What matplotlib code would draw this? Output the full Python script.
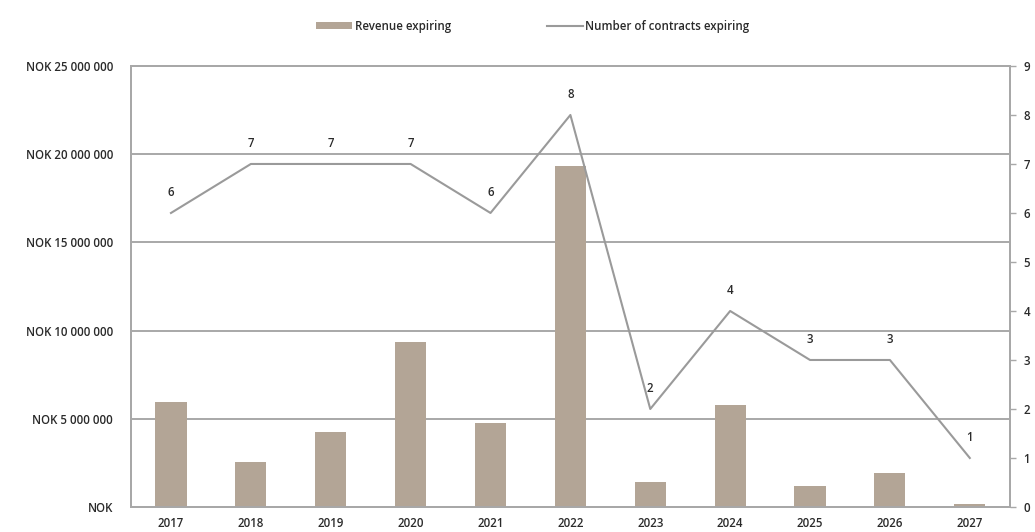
import matplotlib.pyplot as plt
import numpy as np
from matplotlib.ticker import FuncFormatter

plt.rcParams["font.family"] = ["Open Sans", "DejaVu Sans"]
plt.rcParams["font.weight"] = "semibold"

# ── data ────────────────────────────────────────────────
years = ["2017", "2018", "2019", "2020", "2021", "2022",
         "2023", "2024", "2025", "2026", "2027"]
revenue_expiring = [5_950_000, 2_550_000, 4_250_000, 9_380_000, 4_760_000,
                    19_350_000, 1_430_000, 5_760_000, 1_170_000, 1_950_000,
                    190_000]
contracts_expiring = [6, 7, 7, 7, 6, 8, 2, 4, 3, 3, 1]

BAR_COLOR = "#b3a596"
LINE_COLOR = "#9a9a9a"
GRID_COLOR = "#a8a8a8"
TEXT_COLOR = "#2a2a2a"
FS = 8.3


def nok(v, _pos):
    if v == 0:
        return "NOK"
    return "NOK " + f"{int(v):,}".replace(",", " ")


fig = plt.figure(figsize=(10.35, 5.32), dpi=100)
ax = fig.add_axes([0.1266, 0.047, 0.849, 0.829])
x = np.arange(len(years))

bars = ax.bar(x, revenue_expiring, width=0.39, color=BAR_COLOR,
              zorder=2, label="Revenue expiring")
ax.set_ylim(0, 25_000_000)
ax.set_xlim(-0.5, len(years) - 0.5)
ax.set_yticks(np.arange(0, 25_000_001, 5_000_000))
ax.yaxis.set_major_formatter(FuncFormatter(nok))
ax.yaxis.grid(True, color=GRID_COLOR, linewidth=1.4, zorder=0)
ax.set_axisbelow(True)
ax.set_xticks(x)
ax.set_xticklabels(years)
ax.tick_params(axis="y", length=0, pad=13, labelsize=FS, labelcolor=TEXT_COLOR)
ax.tick_params(axis="x", length=0, pad=7, labelsize=FS, labelcolor=TEXT_COLOR)
for s in ax.spines.values():
    s.set_color(GRID_COLOR)
    s.set_linewidth(1.4)

# contracts on secondary axis
ax2 = ax.twinx()
line, = ax2.plot(x, contracts_expiring, color=LINE_COLOR, linewidth=1.5,
                 zorder=3, label="Number of contracts expiring")
ax2.set_ylim(0, 9)
ax2.set_yticks(range(0, 10))
ax2.tick_params(axis="y", length=4, width=1, color=GRID_COLOR, pad=6,
                labelsize=FS, labelcolor=TEXT_COLOR)
for s in ax2.spines.values():
    s.set_color(GRID_COLOR)
    s.set_linewidth(1.4)

for xi, n in zip(x, contracts_expiring):
    ax2.annotate(str(n), (xi, n), xytext=(0, 15), textcoords="offset points",
                 ha="center", va="center", fontsize=FS, color=TEXT_COLOR)

fig.legend([bars, line], ["Revenue expiring", "Number of contracts expiring"],
           loc="center", bbox_to_anchor=(0.515, 0.951), ncol=2, frameon=False,
           fontsize=FS, handlelength=3.1, handleheight=0.5,
           columnspacing=8.3, handletextpad=0.25, labelcolor=TEXT_COLOR)

plt.savefig("out.png", dpi=100)
